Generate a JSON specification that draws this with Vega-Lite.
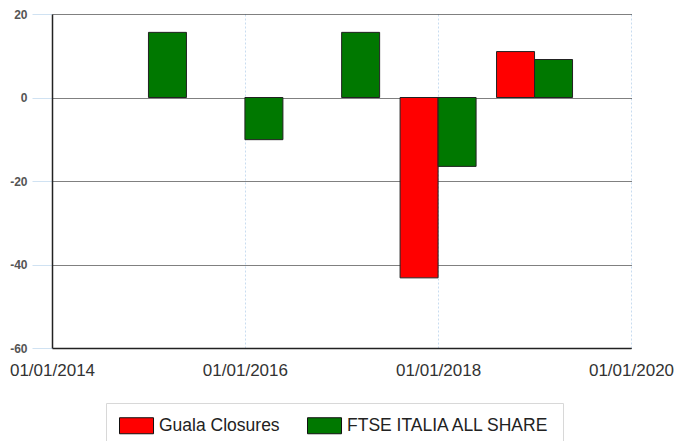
{
  "$schema": "https://vega.github.io/schema/vega-lite/v6.json",
  "width": 579,
  "height": 334,
  "autosize": {"type": "none"},
  "padding": {"left": 52, "top": 14, "right": 44, "bottom": 93},
  "background": "white",
  "config": {
    "view": {"stroke": null},
    "font": "Liberation Sans"
  },
  "data": {
    "values": [
      {"date": "2015-01-01", "series": "FTSE ITALIA ALL SHARE", "value": 15.6},
      {"date": "2016-01-01", "series": "FTSE ITALIA ALL SHARE", "value": -10.1},
      {"date": "2017-01-01", "series": "FTSE ITALIA ALL SHARE", "value": 15.6},
      {"date": "2018-01-01", "series": "Guala Closures", "value": -43.2},
      {"date": "2018-01-01", "series": "FTSE ITALIA ALL SHARE", "value": -16.5},
      {"date": "2019-01-01", "series": "Guala Closures", "value": 11.0},
      {"date": "2019-01-01", "series": "FTSE ITALIA ALL SHARE", "value": 9.1}
    ]
  },
  "encoding": {
    "x": {
      "field": "date",
      "type": "temporal",
      "scale": {"domain": [{"year": 2014, "month": 1, "date": 1}, {"year": 2020, "month": 1, "date": 1}], "padding": 0},
      "axis": {
        "title": null,
        "format": "%d/%m/%Y",
        "values": [{"year": 2014, "month": 1, "date": 1}, {"year": 2016, "month": 1, "date": 1}, {"year": 2018, "month": 1, "date": 1}, {"year": 2020, "month": 1, "date": 1}],
        "labelFont": "Liberation Sans",
        "labelFontSize": 17,
        "labelColor": "#333333",
        "labelPadding": 14,
        "ticks": false,
        "domainColor": "#222222",
        "domainWidth": 1.5,
        "grid": true,
        "gridColor": "#c8dcf0",
        "gridDash": [2, 2],
        "gridWidth": 1,
        "labelFlush": false,
        "labelOverlap": false
      }
    },
    "y": {
      "field": "value",
      "type": "quantitative",
      "stack": null,
      "scale": {"domain": [-60, 20], "nice": false},
      "axis": {
        "title": null,
        "values": [-60, -40, -20, 0, 20],
        "labelExpr": "replace(datum.label, '\u2212', '-')",
        "labelFont": "Liberation Sans",
        "labelFontSize": 12,
        "labelFontWeight": "bold",
        "labelColor": "#555555",
        "labelPadding": 5,
        "tickSize": 20,
        "tickColor": "#d0e2f2",
        "domainColor": "#222222",
        "domainWidth": 1.5,
        "grid": true,
        "gridColor": "#000000",
        "gridDash": [1, 1],
        "gridWidth": 1
      }
    },
    "color": {
      "field": "series",
      "type": "nominal",
      "scale": {"domain": ["Guala Closures", "FTSE ITALIA ALL SHARE"], "range": ["#ff0000", "#007800"]},
      "legend": {
        "title": null,
        "orient": "none",
        "direction": "horizontal",
        "legendX": 54,
        "legendY": 389,
        "strokeColor": "#d8d8d8",
        "padding": 13,
        "symbolType": "M-1,-0.89H2.78V0.89H-1Z",
        "symbolSize": 324,
        "symbolStrokeColor": "#111111",
        "symbolStrokeWidth": 1,
        "symbolOpacity": 1,
        "labelFont": "Liberation Sans",
        "labelFontSize": 17.5,
        "labelColor": "#222222",
        "labelOffset": 21,
        "labelLimit": 400,
        "columnPadding": 25
      }
    }
  },
  "layer": [
    {
      "transform": [{"filter": "datum.series === 'Guala Closures'"}],
      "mark": {"type": "bar", "width": 38, "xOffset": -19, "stroke": "#222222", "strokeWidth": 1}
    },
    {
      "transform": [{"filter": "datum.series === 'FTSE ITALIA ALL SHARE'"}],
      "mark": {"type": "bar", "width": 38, "xOffset": 19, "stroke": "#222222", "strokeWidth": 1}
    }
  ]
}
